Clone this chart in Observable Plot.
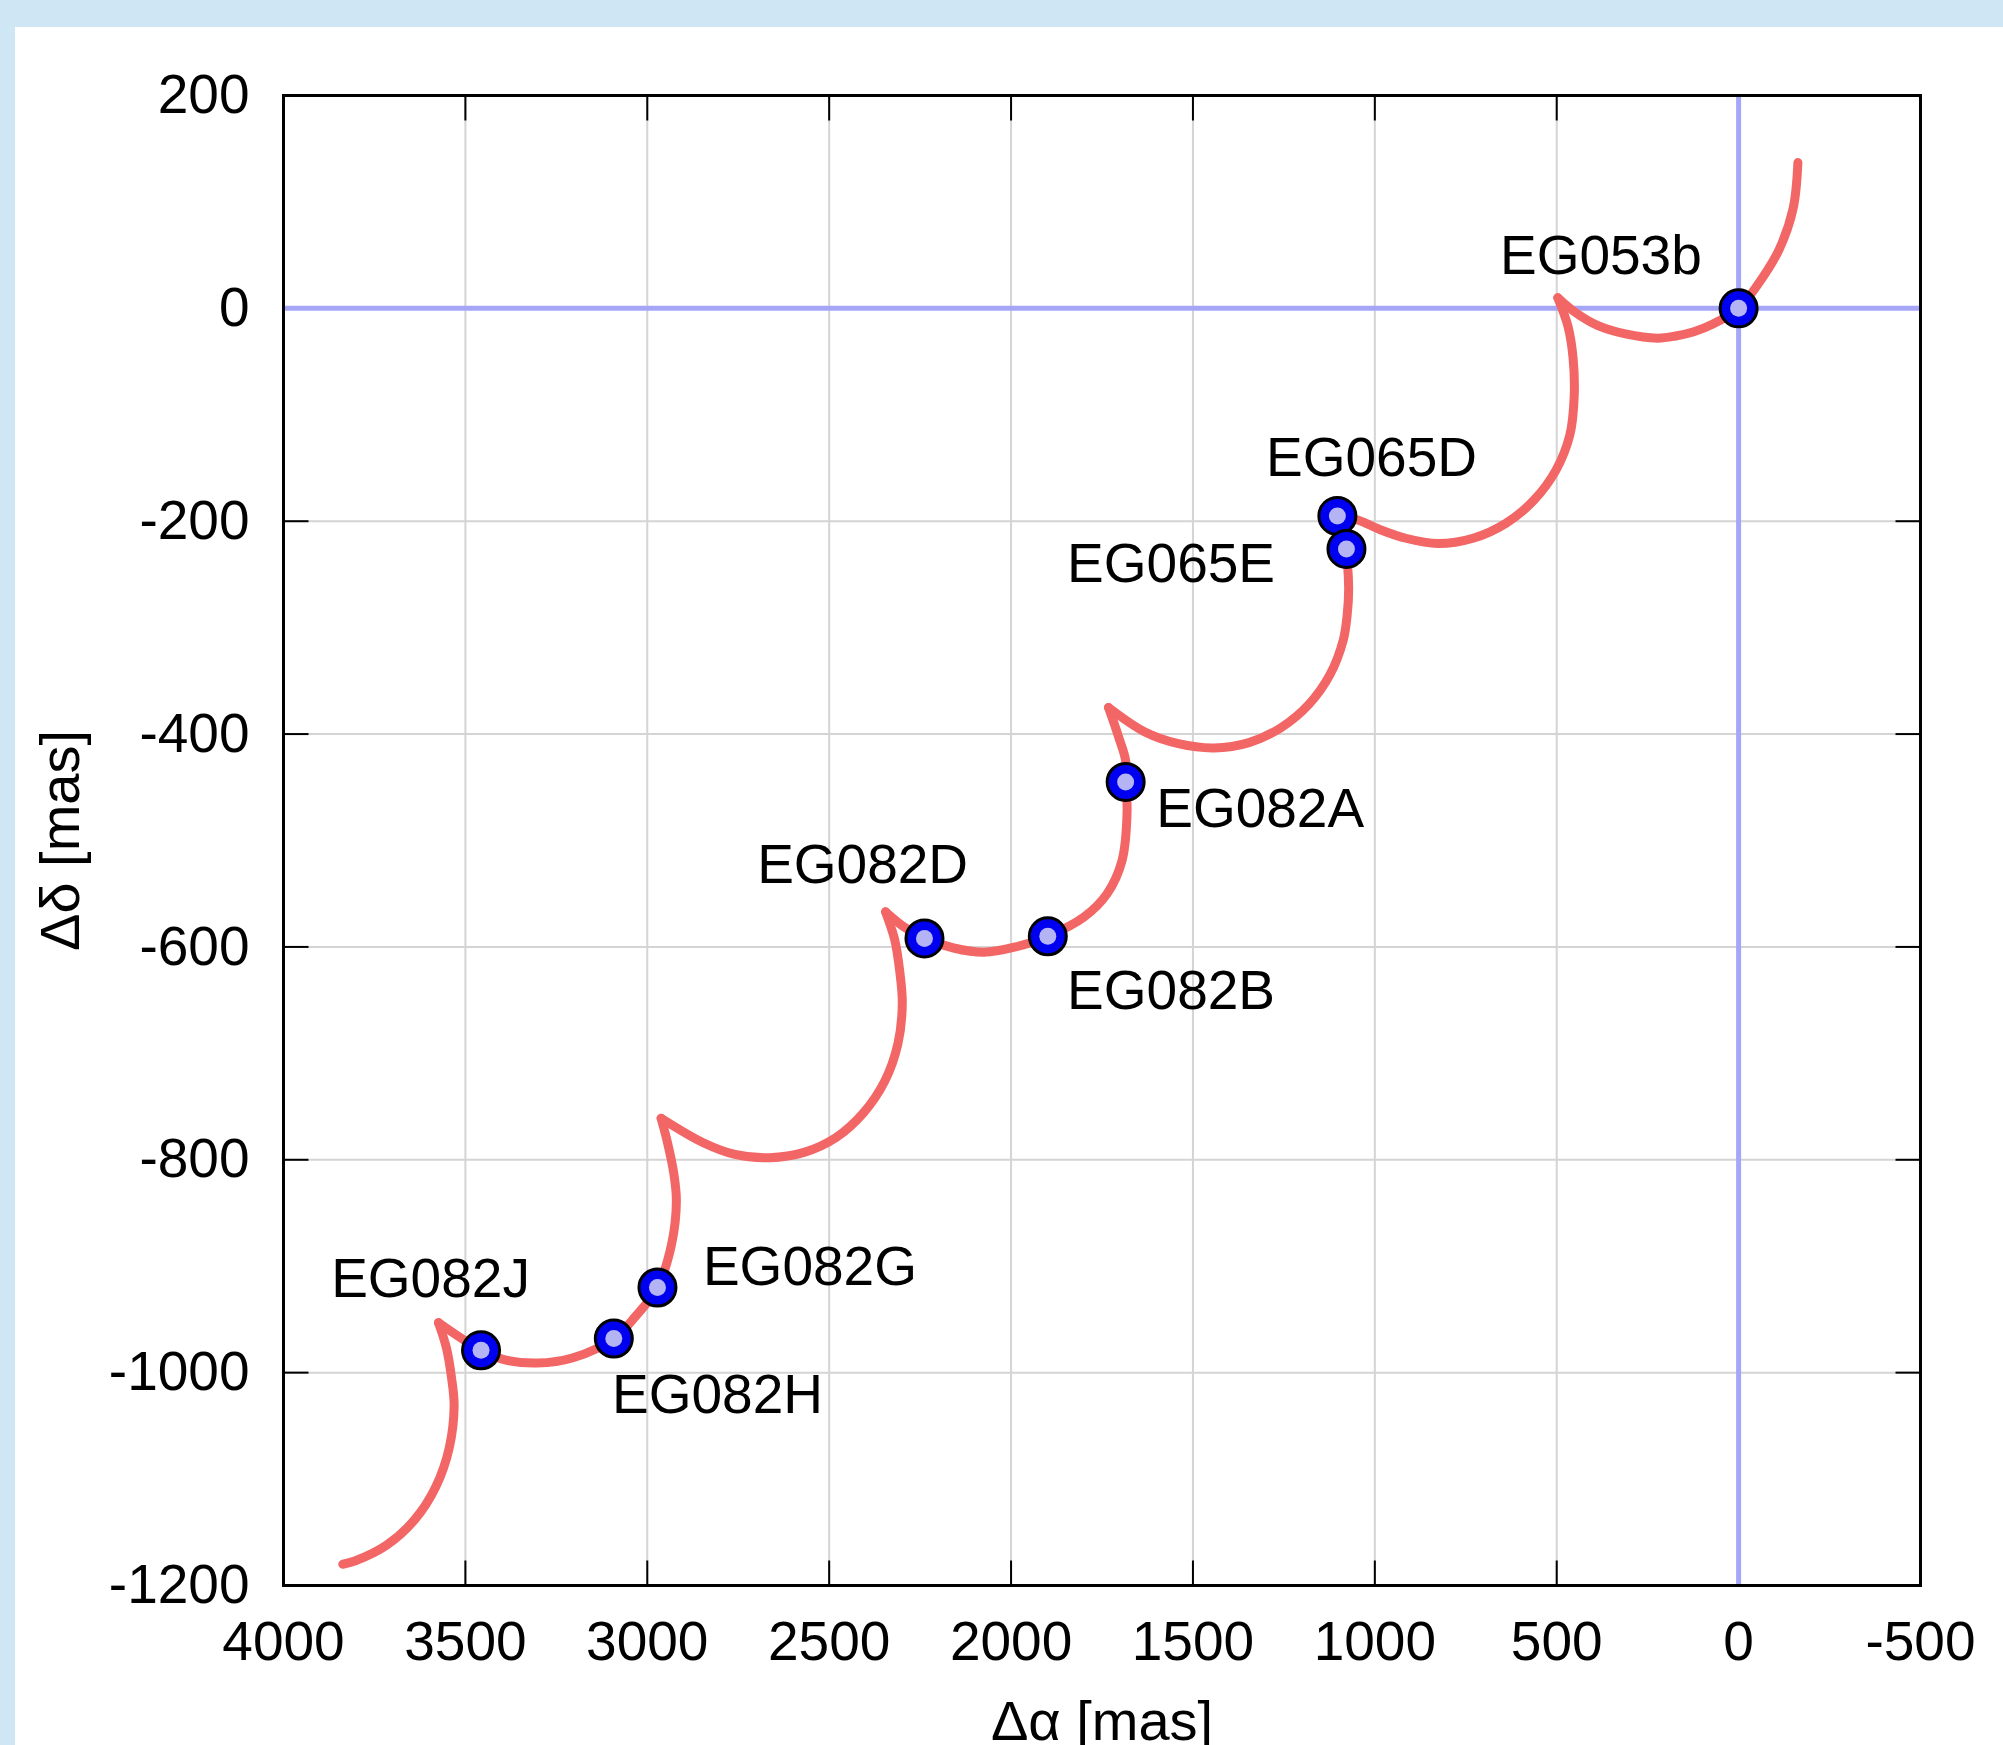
<!DOCTYPE html>
<html>
<head>
<meta charset="utf-8">
<script src="https://cdn.jsdelivr.net/npm/d3@7"></script>
<script src="https://cdn.jsdelivr.net/npm/@observablehq/plot@0.6"></script>
<style>
html, body { margin: 0; padding: 0; width: 2003px; height: 1745px; overflow: hidden; background: #cfe6f4; }
#panel { position: absolute; left: 15px; top: 27px; width: 1988px; height: 1718px; background: #ffffff; }
#chart { position: absolute; left: 0; top: 0; }
</style>
</head>
<body>
<div id="panel"></div>
<div id="chart"></div>
<script>
// Axis ticks
const xTicks = [4000, 3500, 3000, 2500, 2000, 1500, 1000, 500, 0, -500];
const yTicks = [200, 0, -200, -400, -600, -800, -1000, -1200];
const xTitle = "Δα [mas]";
const yTitle = "Δδ [mas]";

// Parallax + proper-motion track, one array pair per arc (between cusps)
const arcRA = [
  [-163, -150, -111, -50, 0, 72, 123, 173, 223, 311, 388, 448, 497],
  [497, 469, 455, 452, 464, 502, 562, 640, 730, 827, 915, 985, 1045, 1106],
  [1106, 1080, 1072, 1076, 1087, 1123, 1181, 1258, 1346, 1442, 1540, 1632, 1732],
  [1732, 1704, 1685, 1685, 1681, 1695, 1736, 1800, 1899, 1988, 2075, 2158, 2238, 2295, 2345],
  [2345, 2320, 2306, 2299, 2311, 2347, 2406, 2481, 2569, 2664, 2759, 2846, 2962],
  [2962, 2945, 2927, 2920, 2933, 2972, 3032, 3092, 3204, 3303, 3391, 3457, 3574],
  [3574, 3552, 3538, 3531, 3544, 3581, 3639, 3716, 3804, 3837]
];
const arcDec = [
  [137, 94, 55, 21, 0, -15, -22, -26, -28, -24, -16, -4, 10],
  [10, -17, -47, -83, -119, -152, -180, -202, -216, -221, -216, -208, -199, -194],
  [-194, -228, -262, -288, -312, -344, -372, -394, -408, -413, -409, -398, -375],
  [-375, -403, -425, -445, -472, -519, -550, -572, -590, -600, -605, -601, -592, -581, -567],
  [-567, -593, -623, -653, -691, -726, -756, -779, -793, -798, -795, -784, -761],
  [-761, -783, -813, -839, -879, -920, -947, -968, -986, -991, -988, -979, -953],
  [-953, -977, -1005, -1031, -1070, -1107, -1138, -1162, -1177, -1180]
];

// Observed epochs
const epochNames = ["EG053b", "EG065D", "EG065E", "EG082A", "EG082B", "EG082D", "EG082G", "EG082H", "EG082J"];
const epochRA  = [0, 1103, 1078, 1685, 1899, 2238, 2972, 3092, 3457];
const epochDec = [0, -195, -226, -445, -590, -592, -920, -968, -979];
// Label anchor (left edge) for each epoch name
const labelRA  = [656, 1299, 1846, 1601, 1846, 2698, 2847, 3097, 3869];
const labelDec = [49, -141, -241, -471, -642, -523, -901, -1021, -912];

const track = [];
arcRA.forEach((ra, k) => ra.forEach((v, i) => track.push({ra: v, dec: arcDec[k][i], arc: k})));
const epochs = epochNames.map((n, i) => ({name: n, ra: epochRA[i], dec: epochDec[i], lra: labelRA[i], ldec: labelDec[i]}));

const W = 2003, H = 1745, mL = 283, mR = 83, mT = 95, mB = 160;
const xMin = -500, xMax = 4000, yMin = -1200, yMax = 200;
const tickPx = 25;
const yPerPx = (yMax - yMin) / (H - mT - mB);
const xPerPx = (xMax - xMin) / (W - mL - mR);
const font = "'Liberation Sans', Arial, Helvetica, sans-serif";
const fs = 55;

const chart = Plot.plot({
  width: W, height: H,
  marginLeft: mL, marginRight: mR, marginTop: mT, marginBottom: mB,
  style: {background: "transparent", fontFamily: font, fontSize: fs + "px", color: "#000", overflow: "visible"},
  x: {domain: [xMax, xMin]},
  y: {domain: [yMin, yMax]},
  marks: [
    Plot.gridX(xTicks, {stroke: "#d4d4d4", strokeOpacity: 1, strokeWidth: 2}),
    Plot.gridY(yTicks, {stroke: "#d4d4d4", strokeOpacity: 1, strokeWidth: 2}),
    // inner ticks on all four sides
    Plot.link(xTicks, {x1: d => d, x2: d => d, y1: () => yMin, y2: () => yMin + tickPx * yPerPx, stroke: "#000", strokeWidth: 2}),
    Plot.link(xTicks, {x1: d => d, x2: d => d, y1: () => yMax, y2: () => yMax - tickPx * yPerPx, stroke: "#000", strokeWidth: 2}),
    Plot.link(yTicks, {y1: d => d, y2: d => d, x1: () => xMax, x2: () => xMax - tickPx * xPerPx, stroke: "#000", strokeWidth: 2}),
    Plot.link(yTicks, {y1: d => d, y2: d => d, x1: () => xMin, x2: () => xMin + tickPx * xPerPx, stroke: "#000", strokeWidth: 2}),
    Plot.ruleX([0], {stroke: "#a6a6f8", strokeWidth: 5}),
    Plot.ruleY([0], {stroke: "#a6a6f8", strokeWidth: 5}),
    Plot.line(track, {x: "ra", y: "dec", z: "arc", stroke: "#f26666", strokeWidth: 9, curve: "catmull-rom", strokeLinecap: "round", strokeLinejoin: "round"}),
    Plot.frame({stroke: "#000", strokeWidth: 3}),
    Plot.dot(epochs, {x: "ra", y: "dec", r: 18.5, fill: "#0000f0", stroke: "#000", strokeWidth: 3}),
    Plot.dot(epochs, {x: "ra", y: "dec", r: 8.5, fill: "#b4b4f4"}),
    Plot.text(epochs, {x: "lra", y: "ldec", text: "name", textAnchor: "start", lineAnchor: "middle", fontSize: fs, fill: "#000"}),
    Plot.axisX(xTicks, {anchor: "bottom", tickSize: 0, tickPadding: 35, tickFormat: d => String(d), fontSize: fs, label: null, fill: "#000"}),
    Plot.axisY(yTicks, {anchor: "left", tickSize: 0, tickPadding: 34, tickFormat: d => String(d), fontSize: fs, label: null, fill: "#000"}),
    Plot.text([xTitle], {text: d => d, frameAnchor: "bottom", dy: 137, textAnchor: "middle", lineAnchor: "middle", fontSize: 56, fill: "#000"}),
    Plot.text([yTitle], {text: d => d, frameAnchor: "left", dx: -222, rotate: -90, textAnchor: "middle", lineAnchor: "middle", fontSize: 56, fill: "#000"})
  ]
});
document.getElementById("chart").appendChild(chart);
</script>
</body>
</html>
